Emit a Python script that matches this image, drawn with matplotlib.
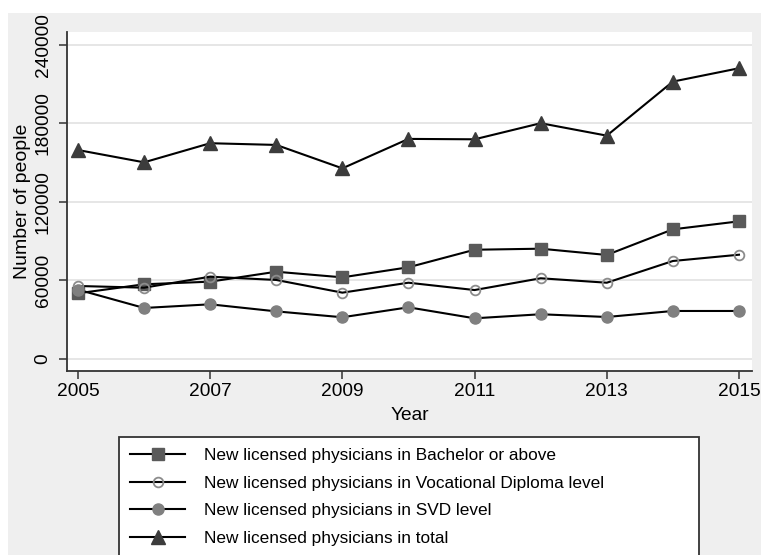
import matplotlib.pyplot as plt
from matplotlib.patches import Rectangle

# --- data ---
years = [2005, 2006, 2007, 2008, 2009, 2010, 2011, 2012, 2013, 2014, 2015]
bachelor = [50200, 57100, 59100, 66700, 62400, 70100, 83500, 84300, 79500, 99100, 105200]
vocational = [55800, 54500, 62900, 60400, 50700, 58300, 52700, 61700, 58300, 74900, 79700]
svd = [53000, 39000, 41800, 36400, 31900, 39500, 31100, 34200, 32100, 36700, 36700]
total = [159700, 150300, 164900, 163600, 145700, 168200, 167900, 180200, 170700, 212000, 222200]

labels = [
    'New licensed physicians in Bachelor or above',
    'New licensed physicians in Vocational Diploma level',
    'New licensed physicians in SVD level',
    'New licensed physicians in total',
]
y_ticks = [0, 60000, 120000, 180000, 240000]
x_ticks = [2005, 2007, 2009, 2011, 2013, 2015]

plt.rcParams['font.family'] = ['Liberation Sans', 'DejaVu Sans']

W, H = 761, 555
fig = plt.figure(figsize=(W / 100, H / 100), dpi=100)
fig.patch.set_facecolor('white')
# grey graph region (Stata style)
fig.patches.append(Rectangle((8 / W, 0), 1 - 8 / W, 1 - 13 / H, transform=fig.transFigure,
                             facecolor='#efefef', edgecolor='none', zorder=-10))

ax = fig.add_axes([67 / W, 1 - 371 / H, (752 - 67) / W, (371 - 32) / H])
ax.set_facecolor('white')

ax.plot(years, bachelor, color='black', lw=1.5, marker='s', ms=8,
        mfc='#5a5a5a', mec='#5a5a5a', label=labels[0])
ax.plot(years, vocational, color='black', lw=1.5, marker='o', ms=7,
        mfc='none', mec='#8c8c8c', mew=1.3, label=labels[1])
ax.plot(years, svd, color='black', lw=1.5, marker='o', ms=8,
        mfc='#808080', mec='#808080', label=labels[2])
ax.plot(years, total, color='black', lw=1.5, marker='^', ms=10,
        mfc='#3c3c3c', mec='#3c3c3c', label=labels[3])

ax.set_xlim(2004.834, 2015.197)
ax.set_ylim(-9170, 249900)
ax.set_xticks(x_ticks)
ax.set_yticks(y_ticks)
ax.set_yticklabels([str(v) for v in y_ticks], rotation=90, va='center')
ax.grid(axis='y', color='#e4e4e4', lw=1.3)
ax.set_axisbelow(True)
for s in ['top', 'right']:
    ax.spines[s].set_visible(False)
for s in ['left', 'bottom']:
    ax.spines[s].set_color('#333333')
    ax.spines[s].set_linewidth(1.3)
ax.tick_params(direction='out', length=6, width=1.1, color='#333333',
               labelsize=13.8)
ax.tick_params(axis='x', pad=2.5)
ax.tick_params(axis='y', pad=5)
ax.set_xlabel('Year', fontsize=13.8, labelpad=5)
ax.set_ylabel('Number of people', fontsize=14, labelpad=3)

leg = fig.legend(loc='upper left',
                 bbox_to_anchor=(119 / W, 1 - 437 / H - 0.01, (699 - 119) / W, 0.01),
                 mode='expand', fontsize=12.4, frameon=True, fancybox=False,
                 handlelength=3.2, handletextpad=1.1, borderpad=0.65,
                 labelspacing=0.72, borderaxespad=0)
leg.get_frame().set_edgecolor('#333333')
leg.get_frame().set_linewidth(1.3)
leg.get_frame().set_facecolor('white')
leg.get_frame().set_alpha(1)

fig.savefig('out.png', dpi=100)
